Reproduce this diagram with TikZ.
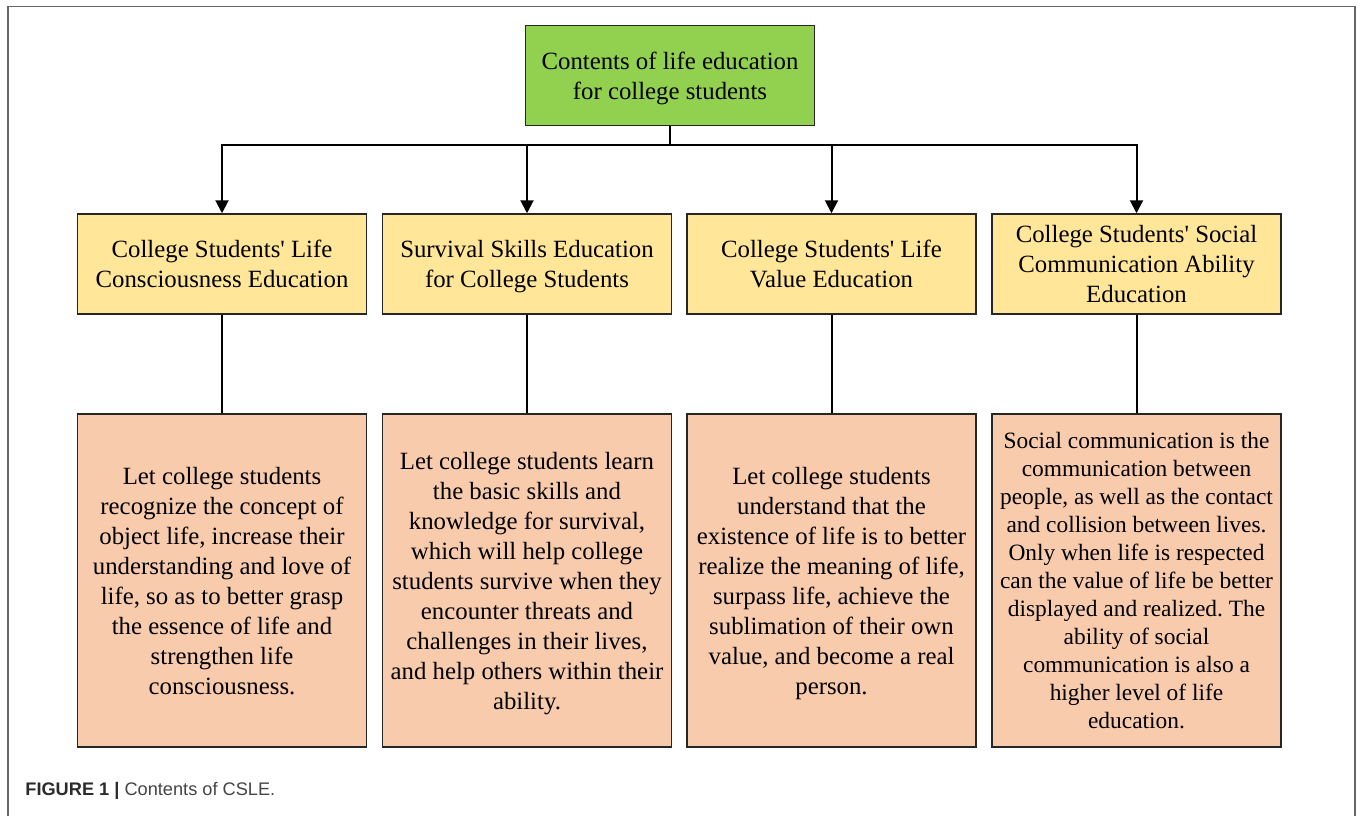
\documentclass[tikz,border=0pt]{standalone}
\usepackage{fontspec}
\setmainfont{Liberation Serif}
\newfontfamily\capfont{Liberation Sans}
\usetikzlibrary{arrows.meta}
\definecolor{topgreen}{HTML}{92D050}
\definecolor{midyellow}{HTML}{FFE699}
\definecolor{lowpeach}{HTML}{F8CBAD}
\definecolor{framegray}{HTML}{666666}
\definecolor{edgegray}{HTML}{262626}
\newcommand{\sq}{\textquotesingle}
\frenchspacing
\begin{document}
\begin{tikzpicture}[x=0.5pt,y=-0.5pt,
  boxbase/.style={draw=edgegray, line width=0.75pt, inner sep=0pt, align=center,
    text depth=0pt, minimum width=144.5pt, font=\fontsize{12.4}{15}\selectfont},
  topbox/.style={boxbase, fill=topgreen, minimum height=50pt},
  midbox/.style={boxbase, fill=midyellow, minimum height=50pt},
  lowbox/.style={boxbase, fill=lowpeach, minimum height=166.5pt},
  link/.style={line width=1pt, black},
  arr/.style={link, -{Triangle[length=6.5pt,width=6.5pt]}}
]
\useasboundingbox (0,0) rectangle (1360,816);
% outer frame (open at bottom)
\draw[framegray, line width=0.9pt] (8,816) -- (8,6.5) -- (1355,6.5) -- (1355,816);

\node[topbox] (top) at (670,75.5) {Contents of life education\\for college students};

\node[midbox] (y1) at (222,264) {College Students\sq{} Life\\Consciousness Education};
\node[midbox] (y2) at (527,264) {Survival Skills Education\\for College Students};
\node[midbox] (y3) at (831.5,264) {College Students\sq{} Life\\Value Education};
\node[midbox] (y4) at (1136.5,264) {College Students\sq{} Social\\Communication Ability\\Education};

\node[lowbox] (p1) at (222,580.5) {Let college students\\recognize the concept of\\object life, increase their\\understanding and love of\\life, so as to better grasp\\the essence of life and\\strengthen life\\consciousness.};
\node[lowbox] (p2) at (527,580.5) {Let college students learn\\the basic skills and\\knowledge for survival,\\which will help college\\students survive when they\\encounter threats and\\challenges in their lives,\\and help others within their\\ability.};
\node[lowbox] (p3) at (831.5,580.5) {Let college students\\understand that the\\existence of life is to better\\realize the meaning of life,\\surpass life, achieve the\\sublimation of their own\\value, and become a real\\person.};
\node[lowbox, font=\fontsize{11.7}{14}\selectfont] (p4) at (1136.5,580.5) {Social communication is the\\communication between\\people, as well as the contact\\and collision between lives.\\Only when life is respected\\can the value of life be better\\displayed and realized. The\\ability of social\\communication is also a\\higher level of life\\education.};

\coordinate (bus) at (670,145);
\draw[link] (top.south) -- (bus);
\draw[arr] (bus) -| (y1.north);
\draw[arr] (bus) -| (y2.north);
\draw[arr] (bus) -| (y3.north);
\draw[arr] (bus) -| (y4.north);

\draw[link] (y1.south) -- (p1.north);
\draw[link] (y2.south) -- (p2.north);
\draw[link] (y3.south) -- (p3.north);
\draw[link] (y4.south) -- (p4.north);

\node[anchor=base west, inner sep=0pt, font=\capfont\fontsize{9.1}{10}\selectfont] (cap) at (25,795)
  {\textcolor[HTML]{2B2B2B}{\textbf{FIGURE 1 |}} \textcolor[HTML]{444444}{Contents of CSLE.}};
\end{tikzpicture}
\end{document}
